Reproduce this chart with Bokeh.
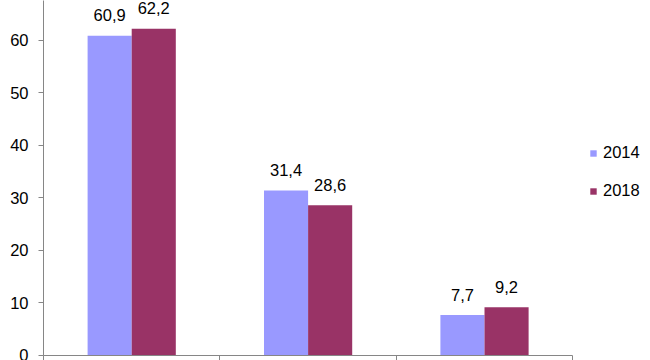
from bokeh.plotting import figure
from bokeh.models import ColumnDataSource, FixedTicker, Legend, LegendItem, LabelSet, Range1d
from bokeh.core.properties import value
from bokeh.embed import file_html
from bokeh.resources import INLINE

# Data
groups = [0.5, 1.5, 2.5]
years = ["2014", "2018"]
values_2014 = [60.9, 31.4, 7.7]
values_2018 = [62.2, 28.6, 9.2]
labels_2014 = ["60,9", "31,4", "7,7"]
labels_2018 = ["62,2", "28,6", "9,2"]
y_ticks = [0, 10, 20, 30, 40, 50, 60]

colors = {"2014": "#9999FF", "2018": "#993366"}
font = "Liberation Sans"
fsize = "16.5px"

p = figure(width=650, height=360, output_backend="svg", toolbar_location=None,
           x_range=Range1d(0, 3.441), y_range=Range1d(0, 67.6),
           min_border_left=43, min_border_right=0, min_border_top=0, min_border_bottom=4)
p.outline_line_color = None
p.xgrid.grid_line_color = None
p.ygrid.grid_line_color = None
p.background_fill_color = "white"
p.border_fill_color = "white"

bw = 0.25
src14 = ColumnDataSource(dict(x=[g - bw / 2 for g in groups], top=values_2014, lab=labels_2014))
src18 = ColumnDataSource(dict(x=[g + bw / 2 for g in groups], top=values_2018, lab=labels_2018))

r14 = p.vbar(x="x", top="top", width=bw, source=src14, fill_color=colors["2014"], line_color=None)
r18 = p.vbar(x="x", top="top", width=bw, source=src18, fill_color=colors["2018"], line_color=None)

for src in (src14, src18):
    p.add_layout(LabelSet(x="x", y="top", text="lab", source=src, y_offset=14.5,
                          text_align="center", text_baseline="alphabetic",
                          text_font=value(font), text_font_size=value(fsize),
                          text_color="#000000"))

axis_color = "#868686"
yax = p.yaxis[0]
yax.ticker = FixedTicker(ticks=y_ticks)
yax.minor_tick_line_color = None
yax.major_tick_out = 5
yax.major_tick_in = 0
yax.axis_line_color = axis_color
yax.major_tick_line_color = axis_color
yax.major_label_text_font = font
yax.major_label_text_font_size = fsize
yax.major_label_text_color = "#000000"
yax.major_label_standoff = 10

xax = p.xaxis[0]
xax.ticker = FixedTicker(ticks=[0, 1, 2, 3])
xax.bounds = (0, 3)
xax.minor_tick_line_color = None
xax.major_tick_out = 5
xax.major_tick_in = 0
xax.axis_line_color = axis_color
xax.major_tick_line_color = axis_color
xax.major_label_overrides = {0: "", 1: "", 2: "", 3: ""}
xax.major_label_text_font_size = "1px"
xax.major_label_standoff = 0

legend = Legend(items=[LegendItem(label=years[0], renderers=[r14]),
                       LegendItem(label=years[1], renderers=[r18])],
                location=(546, 155), orientation="vertical",
                glyph_width=8, glyph_height=8, label_height=18, spacing=19,
                label_standoff=6, padding=0, margin=0,
                border_line_color=None, background_fill_alpha=0,
                label_text_font=font, label_text_font_size=fsize, label_text_color="#000000")
p.add_layout(legend)

open("out.html", "w").write(file_html(p, INLINE))
